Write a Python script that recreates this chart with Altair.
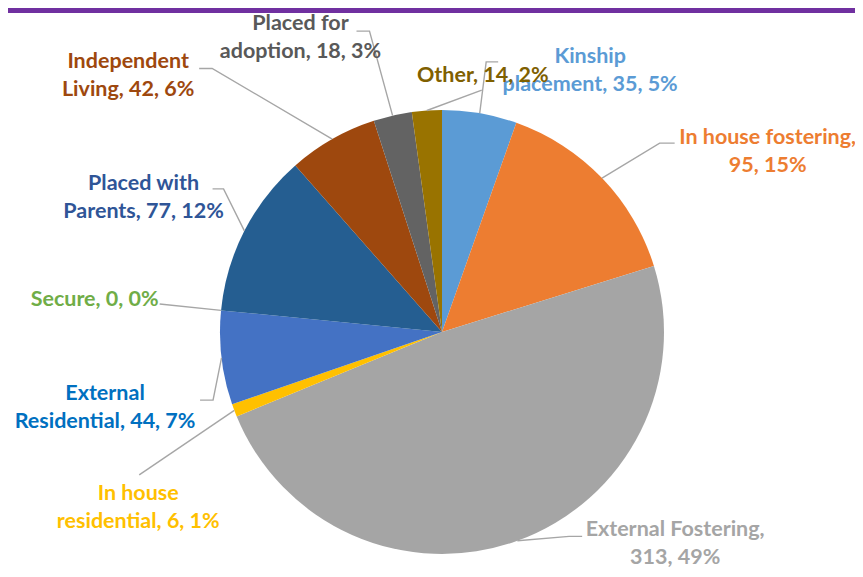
import math
import altair as alt
import pandas as pd

# ---- data ----
categories = ["Kinship placement", "In house fostering", "External Fostering",
              "In house residential", "External Residential", "Secure",
              "Placed with Parents", "Independent Living", "Placed for adoption", "Other"]
counts = [35, 95, 313, 6, 44, 0, 77, 42, 18, 14]
percent_labels = ["5%", "15%", "49%", "1%", "7%", "0%", "12%", "6%", "3%", "2%"]

# ---- styles ----
slice_colors = ["#5B9BD5", "#ED7D31", "#A5A5A5", "#FFC000", "#4472C4",
                "#70AD47", "#255E91", "#9E480E", "#636363", "#997300"]
text_colors = ["#5B9BD5", "#ED7D31", "#A5A5A5", "#FFC000", "#0070C0",
               "#70AD47", "#2F5597", "#9E480E", "#595959", "#7F6000"]
line_break_after = [1, 3, 2, 2, 1, 0, 2, 1, 2, 0]   # words on first label line

# ---- layout (label placement relative to each slice's mid angle) ----
W, H = 847, 561
CX, CY = 434, 324          # pie centre inside the plot area
R = 222                    # pie radius
LINE_H = 28
label_nudge_deg = [19.6, 14.7, -28.1, -9.1, -5.7, 0.0, -2.6, -21.0, -12.7, 12.9]
label_dist = [302, 373, 314, 350, 345, 349, 328, 406, 328, 261]
leader_attach = [(-92, 7), (-93, 7), (-93, 6), (1, 31), (95, 6),
                 (65, -6), (69, 7), (71, 6), (56, 5), (-1, -16)]
leader_stub = [-12, -15, -13, 0, 13, 0, 11, 13, 13, 0]


def polar(angle_deg, r):
    a = math.radians(angle_deg)
    return r * math.sin(a), r * math.cos(a)


total = sum(counts)
slices = pd.DataFrame({"category": categories, "count": counts,
                       "idx": list(range(len(categories)))})

label_rows, leader_rows = [], []
cum = 0
for i, (cat, cnt, pct) in enumerate(zip(categories, counts, percent_labels)):
    mid = (cum + cnt / 2) / total * 360
    cum += cnt
    words = f"{cat}, {cnt}, {pct}".split(" ")
    b = line_break_after[i]
    text = " ".join(words[:b]) + "\n" + " ".join(words[b:]) if b else " ".join(words)
    n_lines = 2 if b else 1
    lx, ly = polar(mid + label_nudge_deg[i], label_dist[i])
    # first line is anchored at y; shift so the whole block is centred
    label_rows.append({"x": lx, "y": ly + (n_lines - 1) * LINE_H / 2,
                       "text": text, "tcolor": text_colors[i]})
    sx, sy = polar(mid, R)
    ex, ey = lx + leader_attach[i][0], ly + leader_attach[i][1]
    pts = [(sx, sy)]
    if leader_stub[i]:
        pts.append((ex + leader_stub[i], ey))
    pts.append((ex, ey))
    for k, (px, py) in enumerate(pts):
        leader_rows.append({"id": i, "seq": k, "x": px, "y": py})

labels = pd.DataFrame(label_rows)
leaders = pd.DataFrame(leader_rows)

xs = alt.Scale(domain=[-CX, W - CX], nice=False, zero=False)
ys = alt.Scale(domain=[-(H - CY), CY], nice=False, zero=False)

pie = alt.Chart(slices).mark_arc(outerRadius=R, stroke=None).encode(
    theta=alt.Theta("count:Q", stack=True),
    order=alt.Order("idx:Q", sort="ascending"),
    color=alt.Color("category:N", scale=alt.Scale(domain=categories, range=slice_colors), legend=None),
    x=alt.X(datum=0, type="quantitative", scale=xs, axis=None),
    y=alt.Y(datum=0, type="quantitative", scale=ys, axis=None),
)

lead = alt.Chart(leaders).mark_line(color="#A6A6A6", strokeWidth=1.4).encode(
    x=alt.X("x:Q", scale=xs, axis=None),
    y=alt.Y("y:Q", scale=ys, axis=None),
    detail="id:N",
    order="seq:Q",
)

text = alt.Chart(labels).mark_text(
    font="Lato", fontSize=21.5, fontWeight="bold", align="center",
    baseline="middle", lineBreak="\n", lineHeight=LINE_H, dy=2,
).encode(
    x=alt.X("x:Q", scale=xs, axis=None),
    y=alt.Y("y:Q", scale=ys, axis=None),
    text="text:N",
    color=alt.Color("tcolor:N", scale=None),
)

banner = alt.Chart(slices).mark_rect(color="#7030A0").encode(
    x=alt.value(-10), x2=alt.value(W + 10), y=alt.value(0), y2=alt.value(5),
)

chart = alt.layer(pie, lead, text, banner).properties(
    width=W, height=H, padding=0, autosize=alt.AutoSizeParams(type="none"),
).configure_view(stroke=None)

chart.save("out.html", embed_options={"renderer": "svg", "actions": False})
